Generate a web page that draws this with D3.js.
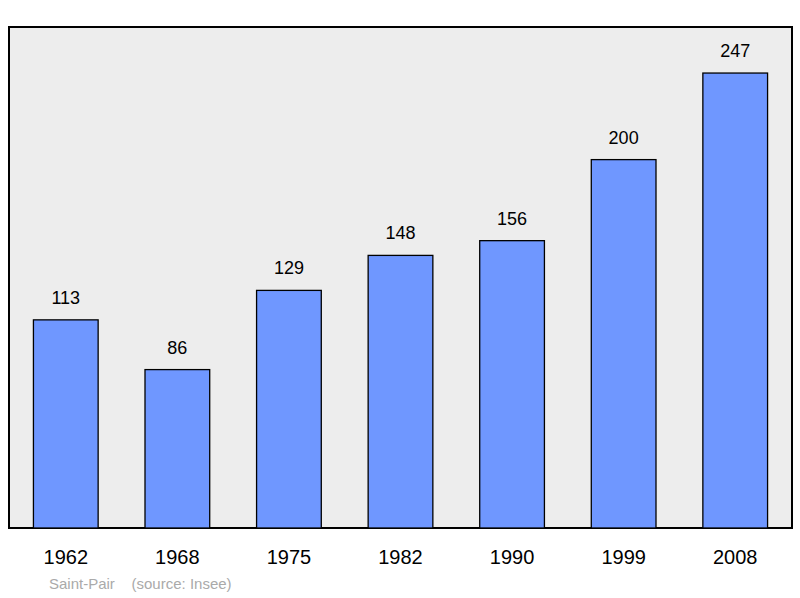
<!DOCTYPE html>
<html><head><meta charset="utf-8">
<script src="https://cdn.jsdelivr.net/npm/d3@7"></script>
<style>body{margin:0;background:#fff}</style></head>
<body><svg id="c" width="800" height="598"></svg>
<script>
const years = ['1962', '1968', '1975', '1982', '1990', '1999', '2008']
const population = [113, 86, 129, 148, 156, 200, 247]
const caption = 'Saint-Pair    (source: Insee)'

const svg = d3.select('#c')
const frameLeft = 9, frameRight = 792, frameTop = 27, frameBottom = 528

const x = d3.scaleBand().domain(years).range([frameLeft + 1, frameRight - 1]).paddingInner(0.42).paddingOuter(0.21)
const y = d3.scaleLinear().domain([0, 272]).range([frameBottom, frameTop])

svg.append('rect')
  .attr('x', frameLeft).attr('y', frameTop)
  .attr('width', frameRight - frameLeft).attr('height', frameBottom - frameTop)
  .attr('fill', '#ededed').attr('stroke', '#000').attr('stroke-width', 2)

svg.append('g').selectAll('rect')
  .data(population)
  .enter().append('rect')
  .attr('x', (d, i) => x(years[i]))
  .attr('y', d => y(d))
  .attr('width', x.bandwidth())
  .attr('height', d => frameBottom - y(d))
  .attr('fill', '#6f97ff')
  .attr('stroke', '#000').attr('stroke-width', 1.3)

svg.append('g').selectAll('text')
  .data(population)
  .enter().append('text')
  .attr('x', (d, i) => x(years[i]) + x.bandwidth() / 2)
  .attr('y', d => y(d) - 16)
  .attr('text-anchor', 'middle')
  .attr('font-family', 'Liberation Sans, Arial, sans-serif')
  .attr('font-size', 18)
  .text(d => d)

svg.append('g').selectAll('text')
  .data(years)
  .enter().append('text')
  .attr('x', d => x(d) + x.bandwidth() / 2)
  .attr('y', 564)
  .attr('text-anchor', 'middle')
  .attr('font-family', 'Liberation Sans, Arial, sans-serif')
  .attr('font-size', 20)
  .text(d => d)

svg.append('text')
  .attr('x', 49).attr('y', 589)
  .attr('font-family', 'Liberation Sans, Arial, sans-serif')
  .attr('font-size', 15)
  .attr('fill', '#aaa')
  .style('white-space', 'pre')
  .text(caption)
</script></body></html>
